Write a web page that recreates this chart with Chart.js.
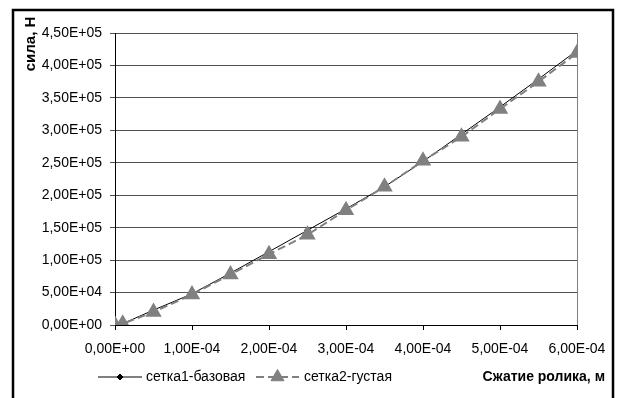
<!DOCTYPE html>
<html>
<head>
<meta charset="utf-8">
<script src="https://cdn.jsdelivr.net/npm/chart.js@4/dist/chart.umd.min.js"></script>
<style>
  html, body { margin: 0; padding: 0; background: #fff; }
  #wrap { position: relative; width: 617px; height: 398px; }
</style>
</head>
<body>
<div id="wrap"><canvas id="chart" width="617" height="398"></canvas></div>
<script>
// ---- Data ----
const compression = [0, 1e-5, 5e-5, 1e-4, 1.5e-4, 2e-4, 2.5e-4, 3e-4, 3.5e-4, 4e-4, 4.5e-4, 5e-4, 5.5e-4, 6e-4];
const forceBase   = [0, 2e3, 23e3, 48e3, 80e3, 113e3, 146e3, 179e3, 213e3, 252e3, 294e3, 336e3, 379e3, 423e3];
const forceDense  = [0, 2e3, 20e3, 47e3, 78e3, 109e3, 139e3, 177e3, 213e3, 253e3, 290e3, 333e3, 375e3, 419e3];
const seriesNames = ['сетка1-базовая', 'сетка2-густая'];
const yTitle = 'сила, Н';
const xTitle = 'Сжатие ролика, м';

const FONT = "'Liberation Sans', Arial, sans-serif";

// Excel-style scientific label: 4,50E+05
function sci(v) {
  if (Math.abs(v) < 1e-12) return '0,00E+00';
  let exp = Math.floor(Math.log10(Math.abs(v)));
  let mant = v / Math.pow(10, exp);
  if (Math.abs(mant).toFixed(2) === '10.00') { mant /= 10; exp += 1; }
  const sign = exp < 0 ? '-' : '+';
  const e = String(Math.abs(exp)).padStart(2, '0');
  return mant.toFixed(2).replace('.', ',') + 'E' + sign + e;
}

const toPoints = ys => compression.map((x, i) => ({ x, y: ys[i] }));

// ---- Frame, titles and legend drawn on the canvas ----
const decorations = {
  id: 'decorations',
  beforeDraw(chart) {
    const { ctx, width, height } = chart;
    ctx.save();
    ctx.fillStyle = '#fff';
    ctx.fillRect(0, 0, width, height);
    ctx.restore();
  },
  afterDraw(chart) {
    const { ctx, chartArea } = chart;
    ctx.save();
    // outer frame
    ctx.strokeStyle = '#000';
    ctx.lineWidth = 2.5;
    ctx.strokeRect(13, 10, 600, 400);
    // plot area right edge
    ctx.strokeStyle = '#808080';
    ctx.lineWidth = 1;
    ctx.beginPath();
    ctx.moveTo(Math.round(chartArea.right) + 0.5, chartArea.top);
    ctx.lineTo(Math.round(chartArea.right) + 0.5, chartArea.bottom);
    ctx.stroke();

    // y title
    ctx.fillStyle = '#000';
    ctx.font = 'bold 15px ' + FONT;
    ctx.textAlign = 'center';
    ctx.textBaseline = 'middle';
    ctx.save();
    ctx.translate(31, 44);
    ctx.rotate(-Math.PI / 2);
    ctx.fillText(yTitle, 0, 0);
    ctx.restore();

    // x title
    ctx.font = 'bold 14px ' + FONT;
    ctx.textAlign = 'right';
    ctx.fillText(xTitle, 605, 377);

    // legend
    ctx.font = '14px ' + FONT;
    ctx.textAlign = 'left';
    const items = [
      { x0: 98, x1: 142, tx: 146 },
      { x0: 256, x1: 299, tx: 304 }
    ];
    const ly = 377;
    chart.data.datasets.forEach((ds, i) => {
      const it = items[i];
      ctx.save();
      ctx.strokeStyle = ds.borderColor;
      ctx.lineWidth = ds.borderWidth;
      ctx.setLineDash(ds.borderDash || []);
      ctx.beginPath();
      ctx.moveTo(it.x0, ly);
      ctx.lineTo(it.x1, ly);
      ctx.stroke();
      ctx.restore();
      ctx.save();
      ctx.fillStyle = ds.pointBackgroundColor;
      ctx.strokeStyle = ds.pointBorderColor;
      Chart.helpers.drawPoint(ctx, {
        pointStyle: ds.pointStyle, radius: ds.pointRadius, borderWidth: 1, rotation: 0
      }, (it.x0 + it.x1) / 2, ly);
      ctx.restore();
      ctx.fillStyle = '#000';
      ctx.fillText(ds.label, it.tx, ly);
    });
    ctx.restore();
  }
};

new Chart(document.getElementById('chart'), {
  type: 'scatter',
  data: {
    datasets: [
      {
        label: seriesNames[0],
        data: toPoints(forceBase),
        showLine: true,
        borderColor: '#000',
        borderWidth: 1,
        pointStyle: 'rectRot',
        pointRadius: 3,
        pointBackgroundColor: '#000',
        pointBorderColor: '#000',
        order: 1
      },
      {
        label: seriesNames[1],
        data: toPoints(forceDense),
        showLine: true,
        borderColor: '#808080',
        borderWidth: 2,
        borderDash: [8, 4],
        pointStyle: 'triangle',
        pointRadius: 7.5,
        pointBackgroundColor: '#808080',
        pointBorderColor: '#808080',
        order: 0
      }
    ]
  },
  options: {
    responsive: false,
    animation: false,
    layout: { padding: { left: 0, top: 33, right: 40, bottom: 0 } },
    plugins: { legend: { display: false }, tooltip: { enabled: false } },
    scales: {
      x: {
        type: 'linear',
        min: 0,
        max: 6e-4,
        afterFit: s => { s.height = 73; },
        grid: { drawOnChartArea: false, drawTicks: true, tickLength: 5, color: '#000' },
        border: { color: '#000' },
        ticks: {
          stepSize: 1e-4,
          padding: 11,
          color: '#000',
          font: { family: FONT, size: 14 },
          maxRotation: 0,
          callback: v => sci(v)
        }
      },
      y: {
        min: 0,
        max: 4.5e5,
        afterFit: s => { s.width = 115; },
        grid: { color: '#505050', tickLength: 5 },
        border: { color: '#000' },
        ticks: {
          stepSize: 5e4,
          padding: 8,
          color: '#000',
          font: { family: FONT, size: 14 },
          callback: v => sci(v)
        }
      }
    }
  },
  plugins: [decorations]
});
</script>
</body>
</html>
